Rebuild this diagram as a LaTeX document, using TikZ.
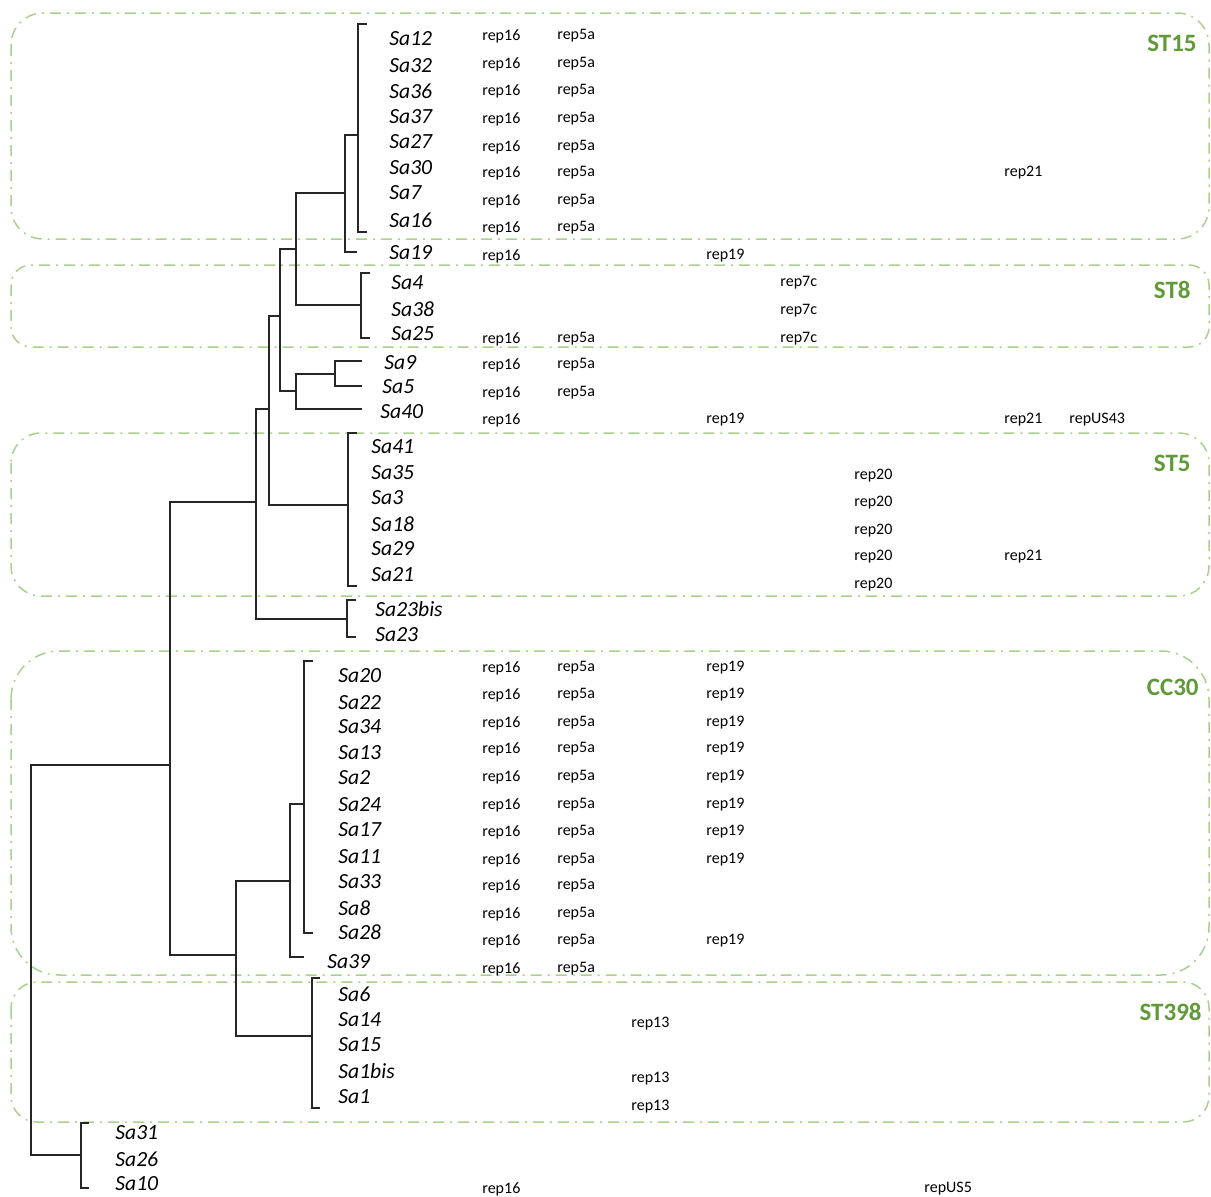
\documentclass[tikz,border=0pt]{standalone}
\usepackage{fontspec}
\newfontfamily\calibri{Carlito}
\definecolor{cladeline}{RGB}{169,209,142}
\definecolor{cladetext}{RGB}{96,154,56}

\begin{document}
\begin{tikzpicture}[x=0.5pt, y=-0.5pt,
  branch/.style={draw=black!85, line width=0.7pt},
  leaf/.style={anchor=west, inner sep=0pt, font=\calibri\itshape\fontsize{10.8}{13}\selectfont},
  rep/.style={anchor=west, inner sep=0pt, yshift=-1pt, font=\calibri\fontsize{8}{10}\selectfont},
  clade/.style={draw=cladeline, line width=0.75pt, dash pattern=on 5.5pt off 3pt on 1pt off 3pt},
  cladename/.style={anchor=east, inner sep=0pt, text=cladetext, font=\calibri\bfseries\fontsize{12.5}{15}\selectfont}]
  \useasboundingbox (0,0) rectangle (1211,1196);
  % ---------------------------------------------------------------- clade boxes
  \draw[clade, rounded corners=16pt] (11,13) rectangle (1209,239);
  \draw[clade, rounded corners=10pt] (11,265) rectangle (1209,347);
  \draw[clade, rounded corners=15pt] (11,433) rectangle (1209,596);
  \draw[clade, rounded corners=24pt] (11,651) rectangle (1209,975);
  \draw[clade, rounded corners=13pt] (11,982) rectangle (1209,1122);
  \node[cladename] (ST15) at (1197,43) {ST15};
  \node[cladename] (ST8) at (1191,290) {ST8};
  \node[cladename] (ST5) at (1191,463) {ST5};
  \node[cladename] (CC30) at (1199,687) {CC30};
  \node[cladename] (ST398) at (1202,1012) {ST398};
  % ---------------------------------------------------------------- isolates
  \node[leaf] (Sa12) at (389,39) {Sa12};
  \node[leaf] (Sa32) at (389,66) {Sa32};
  \node[leaf] (Sa36) at (389,91) {Sa36};
  \node[leaf] (Sa37) at (389,117) {Sa37};
  \node[leaf] (Sa27) at (389,142) {Sa27};
  \node[leaf] (Sa30) at (389,168) {Sa30};
  \node[leaf] (Sa7) at (389,193) {Sa7};
  \node[leaf] (Sa16) at (389,220) {Sa16};
  \node[leaf] (Sa19) at (389,253) {Sa19};
  \node[leaf] (Sa4) at (391,283) {Sa4};
  \node[leaf] (Sa38) at (391,309) {Sa38};
  \node[leaf] (Sa25) at (391,334) {Sa25};
  \node[leaf] (Sa9) at (384,363) {Sa9};
  \node[leaf] (Sa5) at (382,387) {Sa5};
  \node[leaf] (Sa40) at (380,412) {Sa40};
  \node[leaf] (Sa41) at (371,447) {Sa41};
  \node[leaf] (Sa35) at (371,473) {Sa35};
  \node[leaf] (Sa3) at (371,498) {Sa3};
  \node[leaf] (Sa18) at (371,524) {Sa18};
  \node[leaf] (Sa29) at (371,549) {Sa29};
  \node[leaf] (Sa21) at (371,575) {Sa21};
  \node[leaf] (Sa23bis) at (375,609) {Sa23bis};
  \node[leaf] (Sa23) at (375,635) {Sa23};
  \node[leaf] (Sa20) at (338,676) {Sa20};
  \node[leaf] (Sa22) at (338,703) {Sa22};
  \node[leaf] (Sa34) at (338,727) {Sa34};
  \node[leaf] (Sa13) at (338,753) {Sa13};
  \node[leaf] (Sa2) at (338,778) {Sa2};
  \node[leaf] (Sa24) at (338,805) {Sa24};
  \node[leaf] (Sa17) at (338,830) {Sa17};
  \node[leaf] (Sa11) at (338,857) {Sa11};
  \node[leaf] (Sa33) at (338,882) {Sa33};
  \node[leaf] (Sa8) at (338,908) {Sa8};
  \node[leaf] (Sa28) at (338,932) {Sa28};
  \node[leaf] (Sa39) at (327,962) {Sa39};
  \node[leaf] (Sa6) at (338,994) {Sa6};
  \node[leaf] (Sa14) at (338,1020) {Sa14};
  \node[leaf] (Sa15) at (338,1045) {Sa15};
  \node[leaf] (Sa1bis) at (338,1071) {Sa1bis};
  \node[leaf] (Sa1) at (338,1097) {Sa1};
  \node[leaf] (Sa31) at (115,1133) {Sa31};
  \node[leaf] (Sa26) at (115,1159) {Sa26};
  \node[leaf] (Sa10) at (115,1184) {Sa10};
  % ---------------------------------------------------------------- rep genes, row by row
  \node[rep] (r12a) at (482,34) {rep16};   \node[rep] (r12b) at (557,34) {rep5a};
  \node[rep] (r32a) at (482,62) {rep16};   \node[rep] (r32b) at (557,62) {rep5a};
  \node[rep] (r36a) at (482,89) {rep16};   \node[rep] (r36b) at (557,89) {rep5a};
  \node[rep] (r37a) at (482,117) {rep16};  \node[rep] (r37b) at (557,117) {rep5a};
  \node[rep] (r27a) at (482,145) {rep16};  \node[rep] (r27b) at (557,145) {rep5a};
  \node[rep] (r30a) at (482,171) {rep16};  \node[rep] (r30b) at (557,171) {rep5a};
  \node[rep] (r30c) at (1004,171) {rep21};
  \node[rep] (r7a) at (482,199) {rep16};   \node[rep] (r7b) at (557,199) {rep5a};
  \node[rep] (r16a) at (482,226) {rep16};  \node[rep] (r16b) at (557,226) {rep5a};
  \node[rep] (r19a) at (482,254) {rep16};  \node[rep] (r19b) at (706,254) {rep19};
  \node[rep] (r4a) at (780,281) {rep7c};
  \node[rep] (r38a) at (780,309) {rep7c};
  \node[rep] (r25a) at (482,337) {rep16};  \node[rep] (r25b) at (557,337) {rep5a};
  \node[rep] (r25c) at (780,337) {rep7c};
  \node[rep] (r9a) at (482,363) {rep16};   \node[rep] (r9b) at (557,363) {rep5a};
  \node[rep] (r5a) at (482,391) {rep16};   \node[rep] (r5b) at (557,391) {rep5a};
  \node[rep] (r40a) at (482,418) {rep16};  \node[rep] (r40b) at (706,418) {rep19};
  \node[rep] (r40c) at (1004,418) {rep21}; \node[rep] (r40d) at (1069,418) {repUS43};
  \node[rep] (r35a) at (854,474) {rep20};
  \node[rep] (r3a) at (854,501) {rep20};
  \node[rep] (r18a) at (854,529) {rep20};
  \node[rep] (r29a) at (854,555) {rep20};  \node[rep] (r29b) at (1004,555) {rep21};
  \node[rep] (r21a) at (854,583) {rep20};
  \node[rep] (r20a) at (482,666) {rep16};  \node[rep] (r20b) at (557,666) {rep5a};  \node[rep] (r20c) at (706,666) {rep19};
  \node[rep] (r22a) at (482,693) {rep16};  \node[rep] (r22b) at (557,693) {rep5a};  \node[rep] (r22c) at (706,693) {rep19};
  \node[rep] (r34a) at (482,721) {rep16};  \node[rep] (r34b) at (557,721) {rep5a};  \node[rep] (r34c) at (706,721) {rep19};
  \node[rep] (r13a) at (482,747) {rep16};  \node[rep] (r13b) at (557,747) {rep5a};  \node[rep] (r13c) at (706,747) {rep19};
  \node[rep] (r2a) at (482,775) {rep16};   \node[rep] (r2b) at (557,775) {rep5a};   \node[rep] (r2c) at (706,775) {rep19};
  \node[rep] (r24a) at (482,803) {rep16};  \node[rep] (r24b) at (557,803) {rep5a};  \node[rep] (r24c) at (706,803) {rep19};
  \node[rep] (r17a) at (482,830) {rep16};  \node[rep] (r17b) at (557,830) {rep5a};  \node[rep] (r17c) at (706,830) {rep19};
  \node[rep] (r11a) at (482,858) {rep16};  \node[rep] (r11b) at (557,858) {rep5a};  \node[rep] (r11c) at (706,858) {rep19};
  \node[rep] (r33a) at (482,884) {rep16};  \node[rep] (r33b) at (557,884) {rep5a};
  \node[rep] (r8a) at (482,912) {rep16};   \node[rep] (r8b) at (557,912) {rep5a};
  \node[rep] (r28a) at (482,939) {rep16};  \node[rep] (r28b) at (557,939) {rep5a};  \node[rep] (r28c) at (706,939) {rep19};
  \node[rep] (r39a) at (482,967) {rep16};  \node[rep] (r39b) at (557,967) {rep5a};
  \node[rep] (r14a) at (631,1022) {rep13};
  \node[rep] (r1bisa) at (631,1077) {rep13};
  \node[rep] (r1a) at (631,1105) {rep13};
  \node[rep] (r10a) at (482,1187) {rep16}; \node[rep] (r10b) at (924,1187) {repUS5};
  % ---------------------------------------------------------------- tree: branch tips and inner nodes
  \coordinate (tA1) at (367,24);   \coordinate (tA2) at (367,232);  \coordinate (nA) at (358,135);
  \coordinate (t19) at (357,252);  \coordinate (nB) at (345,193);
  \coordinate (tS1) at (370,273);  \coordinate (tS2) at (370,338);  \coordinate (nST8) at (361,305);
  \coordinate (nC) at (296,249);
  \coordinate (t9) at (362,361);   \coordinate (t5) at (362,386);   \coordinate (nP) at (335,374);
  \coordinate (t40) at (362,409);  \coordinate (nD) at (296,391);
  \coordinate (nE) at (280,316);
  \coordinate (tF1) at (357,433);  \coordinate (tF2) at (357,586);  \coordinate (nST5) at (348,505);
  \coordinate (nF) at (269,409);
  \coordinate (tQ1) at (356,600);  \coordinate (tQ2) at (356,637);  \coordinate (nQ) at (347,619);
  \coordinate (nG) at (256,502);
  \coordinate (tC1) at (313,661);  \coordinate (tC2) at (313,933);  \coordinate (nCC) at (304,804);
  \coordinate (t39) at (304,957);  \coordinate (nH) at (290,881);
  \coordinate (tT1) at (320,978);  \coordinate (tT2) at (320,1108); \coordinate (nST398) at (312,1036);
  \coordinate (nI) at (236,955);
  \coordinate (nJ) at (170,765);
  \coordinate (tK1) at (89,1123);  \coordinate (tK2) at (89,1188);  \coordinate (nK) at (81,1155);
  \coordinate (nR) at (31,960);
  % brackets of the unresolved groups
  \draw[branch] (tA1) -| (nA) |- (tA2);
  \draw[branch] (tS1) -| (nST8) |- (tS2);
  \draw[branch] (tF1) -| (nST5) |- (tF2);
  \draw[branch] (tQ1) -| (nQ) |- (tQ2);
  \draw[branch] (tC1) -| (nCC) |- (tC2);
  \draw[branch] (tT1) -| (nST398) |- (tT2);
  \draw[branch] (tK1) -| (nK) |- (tK2);
  % the branches
  \draw[branch] (nP) |- (t9);  \draw[branch] (nP) |- (t5);
  \draw[branch] (nB) |- (nA);  \draw[branch] (nB) |- (t19);
  \draw[branch] (nC) |- (nB);  \draw[branch] (nC) |- (nST8);
  \draw[branch] (nD) |- (nP);  \draw[branch] (nD) |- (t40);
  \draw[branch] (nE) |- (nC);  \draw[branch] (nE) |- (nD);
  \draw[branch] (nF) |- (nE);  \draw[branch] (nF) |- (nST5);
  \draw[branch] (nG) |- (nF);  \draw[branch] (nG) |- (nQ);
  \draw[branch] (nH) |- (nCC); \draw[branch] (nH) |- (t39);
  \draw[branch] (nI) |- (nH);  \draw[branch] (nI) |- (nST398);
  \draw[branch] (nJ) |- (nG);  \draw[branch] (nJ) |- (nI);
  \draw[branch] (nR) |- (nJ);  \draw[branch] (nR) |- (nK);
\end{tikzpicture}
\end{document}
